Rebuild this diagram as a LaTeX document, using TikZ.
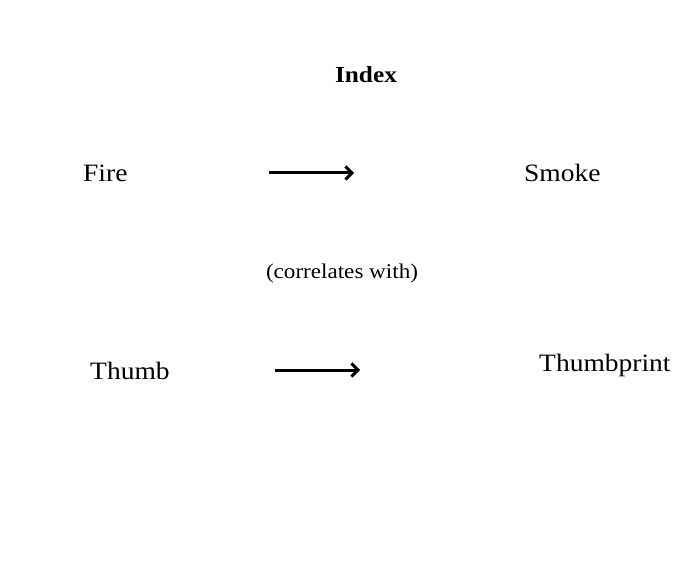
\documentclass[tikz,border=0pt]{standalone}
\usepackage{fontspec}
\setmainfont[FakeStretch=1.1]{Liberation Serif}
\usetikzlibrary{arrows.meta}
\tikzset{
  lbl/.style={anchor=base west, inner sep=0pt, font=\fontsize{25}{28}\selectfont},
  small/.style={anchor=base, inner sep=0pt, font=\fontsize{21}{24}\selectfont},
  ttl/.style={anchor=base, inner sep=0pt, font=\fontsize{23}{26}\selectfont\bfseries},
  arr/.style={line width=3pt, -{Straight Barb[length=6.5pt,width=13pt,line width=3pt]}}
}
\begin{document}
\begin{tikzpicture}[x=1pt,y=-1pt]
\useasboundingbox (0,0) rectangle (680,577);
\node[ttl] (index) at (366,83) {Index};
\node[lbl] (fire) at (83,182) {Fire};
\node[lbl] (smoke) at (524,182) {Smoke};
\node[small] (corr) at (342,279) {(correlates with)};
\node[lbl] (thumb) at (90,379) {Thumb};
\node[lbl] (tprint) at (539,371) {Thumbprint};
\coordinate (a1s) at (269,173);
\coordinate (a1e) at (354,173);
\coordinate (a2s) at (275,370);
\coordinate (a2e) at (360,370);
\draw[arr] (a1s) -- (a1e);
\draw[arr] (a2s) -- (a2e);
\end{tikzpicture}
\end{document}
